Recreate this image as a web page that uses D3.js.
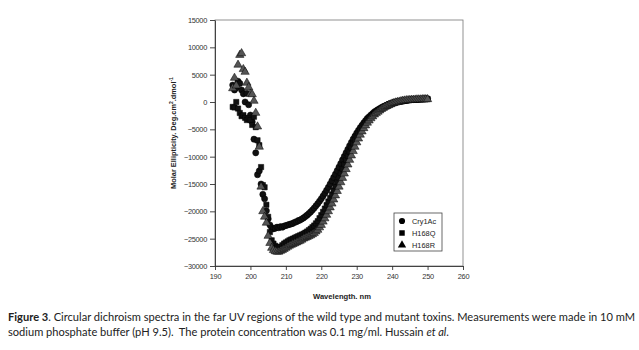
<!DOCTYPE html>
<html>
<head>
<meta charset="utf-8">
<script src="https://cdn.jsdelivr.net/npm/d3@7"></script>
<style>
  body { margin: 0; background: #fff; }
  svg { display: block; }
</style>
</head>
<body>
<div id="chart"></div>
<script>
// Wavelengths (nm), sampled every 0.5 nm
const wavelength = [
  195, 195.5, 196, 196.5, 197, 197.5, 198, 198.5, 199, 199.5,
  200, 200.5, 201, 201.5, 202, 202.5, 203, 203.5, 204, 204.5,
  205, 205.5, 206, 206.5, 207, 207.5, 208, 208.5, 209, 209.5,
  210, 210.5, 211, 211.5, 212, 212.5, 213, 213.5, 214, 214.5,
  215, 215.5, 216, 216.5, 217, 217.5, 218, 218.5, 219, 219.5,
  220, 220.5, 221, 221.5, 222, 222.5, 223, 223.5, 224, 224.5,
  225, 225.5, 226, 226.5, 227, 227.5, 228, 228.5, 229, 229.5,
  230, 230.5, 231, 231.5, 232, 232.5, 233, 233.5, 234, 234.5,
  235, 235.5, 236, 236.5, 237, 237.5, 238, 238.5, 239, 239.5,
  240, 240.5, 241, 241.5, 242, 242.5, 243, 243.5, 244, 244.5,
  245, 245.5, 246, 246.5, 247, 247.5, 248, 248.5, 249, 249.5,
  250
];

// Molar ellipticity (deg.cm2.dmol-1)
const cry1ac = [
  3100, 2200, 2600, 3800, 3400, 2200, 1500, 0, 1600, -500,
  -2400, -3600, -6800, -9300, -13300, -12600, -15000, -16900, -17700, -19900,
  -21400, -22500, -23000, -23200, -23100, -22900, -23000, -22800, -22900, -22700,
  -22600, -22500, -22400, -22300, -22200, -22000, -21900, -21700, -21600, -21400,
  -21200, -20950, -20700, -20400, -20100, -19750, -19400, -19000, -18600, -18150,
  -17700, -17200, -16700, -16150, -15600, -15000, -14400, -13800, -13200, -12550,
  -11900, -11250, -10600, -9950, -9300, -8650, -8000, -7400, -6800, -6250,
  -5700, -5200, -4700, -4250, -3800, -3400, -3000, -2700, -2400, -2100,
  -1800, -1600, -1400, -1200, -1000, -850, -700, -550, -400, -300,
  -200, -100, 0, 50, 100, 150, 200, 250, 300, 350,
  400, 430, 450, 480, 500, 530, 550, 560, 580, 590,
  600
];

const h168q = [
  -900, -1000, 0, -1200, -2000, -2600, -2400, -2900, -3300, -3000,
  -3300, -4200, -2700, -4600, -7000, -7900, -11900, -15200, -15600, -18800,
  -21000, -23800, -25300, -25900, -26300, -26600, -26600, -26500, -26200, -25900,
  -25700, -25500, -25300, -25150, -25000, -24850, -24700, -24550, -24400, -24250,
  -24100, -23900, -23700, -23450, -23200, -22900, -22600, -22200, -21800, -21250,
  -20700, -20100, -19500, -18850, -18200, -17550, -16900, -16150, -15400, -14600,
  -13800, -13000, -12200, -11400, -10600, -9850, -9100, -8350, -7600, -6950,
  -6300, -5750, -5200, -4700, -4200, -3800, -3400, -3050, -2700, -2400,
  -2100, -1850, -1600, -1400, -1200, -1000, -850, -700, -550, -420,
  -300, -180, -50, 20, 100, 150, 200, 250, 300, 340,
  380, 400, 420, 450, 470, 490, 500, 520, 530, 540,
  550
];

const h168r = [
  2500, 4400, 3000, 6800, 8600, 8900, 6000, 5500, 3500, 2700,
  1500, 1400, 200, -2000, -4500, -8200, -15500, -20000, -21000, -22100,
  -24500, -25800, -26700, -27100, -27300, -27400, -27400, -27250, -27100, -26900,
  -26700, -26500, -26300, -26150, -26000, -25850, -25700, -25550, -25400, -25200,
  -25000, -24850, -24700, -24550, -24400, -24200, -24000, -23700, -23400, -22950,
  -22500, -21900, -21300, -20650, -20000, -19300, -18600, -17850, -17100, -16300,
  -15500, -14700, -13900, -13100, -12300, -11450, -10600, -9800, -9000, -8200,
  -7400, -6700, -6000, -5400, -4800, -4300, -3800, -3400, -3000, -2650,
  -2300, -2050, -1800, -1550, -1300, -1100, -900, -750, -600, -450,
  -300, -200, -100, -20, 50, 130, 200, 250, 300, 330,
  350, 380, 400, 420, 450, 450, 450, 480, 500, 500,
  500
];

const seriesNames = ["Cry1Ac", "H168Q", "H168R"];
const xTicks = [190, 200, 210, 220, 230, 240, 250, 260];
const yTicks = [15000, 10000, 5000, 0, -5000, -10000, -15000, -20000, -25000, -30000];

const width = 639, height = 350;
const plot = {left: 215, right: 463, top: 20, bottom: 266};

const svg = d3.select("#chart")
  .append("svg")
  .attr("width", width)
  .attr("height", height)
  .style("background", "#fff");

const x = d3.scaleLinear().domain([190, 260]).range([plot.left, plot.right]);
const y = d3.scaleLinear().domain([-30000, 15000]).range([plot.bottom, plot.top]);

// frame
svg.append("rect")
  .attr("x", plot.left)
  .attr("y", plot.top)
  .attr("width", plot.right - plot.left)
  .attr("height", plot.bottom - plot.top)
  .attr("fill", "none")
  .attr("stroke", "#777")
  .attr("stroke-width", 0.8);

// axes
const axisFont = "'Liberation Sans', Arial, sans-serif";

const xAxis = svg.append("g")
  .attr("transform", `translate(0,${plot.bottom})`)
  .call(d3.axisBottom(x).tickValues(xTicks).tickSize(4).tickPadding(4).tickSizeOuter(0));

const yAxis = svg.append("g")
  .attr("transform", `translate(${plot.left},0)`)
  .call(d3.axisLeft(y).tickValues(yTicks).tickFormat(d3.format("d")).tickSize(5).tickPadding(3).tickSizeOuter(0));

[xAxis, yAxis].forEach(a => {
  a.select(".domain").attr("stroke", "#333").attr("stroke-width", 0.9);
  a.selectAll(".tick line").attr("stroke", "#333").attr("stroke-width", 0.9);
  a.selectAll(".tick text")
    .attr("fill", "#333")
    .style("font-family", axisFont)
    .style("font-size", "7.4px")
    .style("letter-spacing", "-0.3px");
});

// axis titles
svg.append("text")
  .attr("x", 342)
  .attr("y", 299)
  .attr("text-anchor", "middle")
  .style("font-family", axisFont)
  .style("font-size", "7.6px")
  .style("font-weight", "bold")
  .attr("fill", "#222")
  .text("Wavelength. nm");

const yTitle = svg.append("text")
  .attr("transform", "translate(176,133) rotate(-90)")
  .attr("text-anchor", "middle")
  .style("font-family", axisFont)
  .style("font-size", "7.4px")
  .style("font-weight", "bold")
  .attr("fill", "#222");
yTitle.append("tspan").text("Molar Ellipticity. Deg.cm");
yTitle.append("tspan").attr("dy", -3).style("font-size", "5px").text("2");
yTitle.append("tspan").attr("dy", 3).text(".dmol");
yTitle.append("tspan").attr("dy", -3).style("font-size", "5px").text("-1");

// data points
const series = [
  {name: seriesNames[0], values: cry1ac, shape: d3.symbolCircle, size: 30, fill: "#111"},
  {name: seriesNames[1], values: h168q, shape: d3.symbolSquare, size: 28, fill: "#111"},
  {name: seriesNames[2], values: h168r, shape: d3.symbolTriangle, size: 30, fill: "#555"}
];

series.forEach(s => {
  svg.append("g")
    .selectAll("path")
    .data(wavelength.map((w, i) => ({w: w, v: s.values[i]})))
    .enter()
    .append("path")
    .attr("transform", d => `translate(${x(d.w)},${y(d.v)})`)
    .attr("d", d3.symbol().type(s.shape).size(s.size))
    .attr("fill", s.fill)
    .attr("stroke", "#000")
    .attr("stroke-width", 0.5);
});

// legend
const legend = svg.append("g").attr("transform", "translate(394,213)");
legend.append("rect")
  .attr("width", 48)
  .attr("height", 38)
  .attr("fill", "#fff")
  .attr("stroke", "#444")
  .attr("stroke-width", 0.8);

const legendItems = legend.selectAll(".legend-item")
  .data(series)
  .enter()
  .append("g")
  .attr("class", "legend-item")
  .attr("transform", (d, i) => `translate(8,${8 + i * 12})`);

legendItems.append("path")
  .attr("d", d => d3.symbol().type(d.shape).size(30)())
  .attr("fill", "#000");

legendItems.append("text")
  .attr("x", 10)
  .attr("y", 3)
  .style("font-family", axisFont)
  .style("font-size", "7.4px")
  .attr("fill", "#222")
  .text(d => d.name);

// caption
const capFont = "Lato, 'Open Sans', sans-serif";
const cap1 = svg.append("text")
  .attr("x", 8)
  .attr("y", 321)
  .style("font-family", capFont)
  .style("font-size", "11.1px")
  .attr("fill", "#222");
cap1.append("tspan").style("font-weight", "bold").text("Figure 3");
cap1.append("tspan").text(". Circular dichroism spectra in the far UV regions of the wild type and mutant toxins. Measurements were made in 10 mM");

const cap2 = svg.append("text")
  .attr("x", 8)
  .attr("y", 336)
  .style("font-family", capFont)
  .style("font-size", "11.1px")
  .attr("fill", "#222")
  .attr("xml:space", "preserve");
cap2.append("tspan").text("sodium phosphate buffer (pH 9.5).  The protein concentration was 0.1 mg/ml. Hussain ");
cap2.append("tspan").style("font-style", "italic").text("et al");
cap2.append("tspan").text(".");
</script>
</body>
</html>
